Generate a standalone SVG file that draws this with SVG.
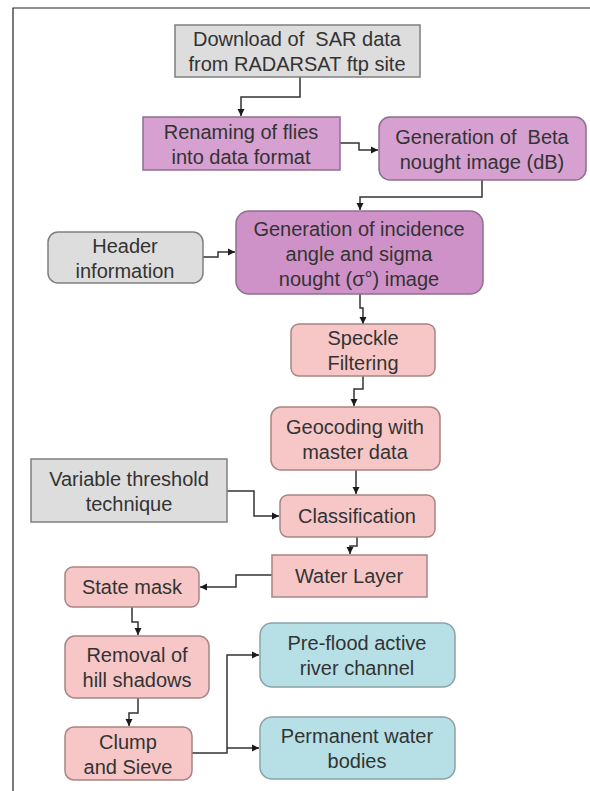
<svg xmlns="http://www.w3.org/2000/svg" width="590" height="791" viewBox="0 0 590 791">
<defs>
<marker id="ah" markerWidth="8" markerHeight="8" refX="7" refY="4" orient="auto" markerUnits="userSpaceOnUse">
<path d="M0,0.5 L7,4 L0,7.5 Z" fill="#1a1a1a"/>
</marker>
</defs>
<style>
text{font-family:"Liberation Sans",Arial,sans-serif;font-size:20px;fill:#333333;text-anchor:middle;white-space:pre}
.gray{fill:#dddddd;stroke:#7f7f7f;stroke-width:1.5}
.purple{fill:#d6a0d1;stroke:#8f6f8c;stroke-width:1.5}
.purple2{fill:#cf92c8;stroke:#8f6f8c;stroke-width:1.5}
.pink{fill:#f7c7c7;stroke:#a88484;stroke-width:1.5}
.blue{fill:#b6e0e6;stroke:#8aa2a6;stroke-width:1.5}
.c{fill:none;stroke:#333333;stroke-width:1.5;marker-end:url(#ah)}
.frame{fill:none;stroke:#222222;stroke-width:1.2}
</style>
<path class="frame" d="M13,791 V8 H590"/>
<g id="connectors">
<path class="c" d="M300,77 V97 H241 V116"/>
<path class="c" d="M340,143 H359 V150 H378"/>
<path class="c" d="M482,180 V197 H360 V210"/>
<path class="c" d="M203,257 H218 V252 H235"/>
<path class="c" d="M360,294 V308 H363 V324"/>
<path class="c" d="M363,376 V389 H354 V406"/>
<path class="c" d="M356,470 V494"/>
<path class="c" d="M227,491 H254 V516 H279"/>
<path class="c" d="M357,537 V546 H350 V554"/>
<path class="c" d="M272,575 H236 V587 H200"/>
<path class="c" d="M132,607 V622 H138 V635"/>
<path class="c" d="M138,698 V713 H129 V726"/>
<path class="c" d="M192,753 H227 V655 H259"/>
<path class="c" d="M227,748 H259"/>
</g>
<g id="n1"><rect class="gray" x="175" y="25" width="245" height="52"/><text x="297" y="46" xml:space="preserve">Download of  SAR data</text><text x="297" y="71">from RADARSAT ftp site</text></g>
<g id="n2"><rect class="purple" x="143" y="117" width="197" height="53"/><text x="241" y="139">Renaming of flies</text><text x="241" y="164">into data format</text></g>
<g id="n3"><rect class="purple" x="379" y="117" width="207" height="63" rx="11"/><text x="482" y="144" xml:space="preserve">Generation of  Beta</text><text x="482" y="169">nought image (dB)</text></g>
<g id="n4"><rect class="purple2" x="236" y="211" width="247" height="83" rx="13"/><text x="359" y="236">Generation of incidence</text><text x="359" y="261">angle and sigma</text><text x="359" y="286">nought (σ°) image</text></g>
<g id="n5"><rect class="gray" x="48" y="232" width="155" height="51" rx="10"/><text x="125" y="253">Header</text><text x="125" y="278">information</text></g>
<g id="n6"><rect class="pink" x="291" y="324" width="144" height="52" rx="8"/><text x="363" y="345">Speckle</text><text x="363" y="370">Filtering</text></g>
<g id="n7"><rect class="pink" x="271" y="407" width="169" height="63" rx="10"/><text x="355" y="434">Geocoding with</text><text x="355" y="459">master data</text></g>
<g id="n8"><rect class="gray" x="31" y="459" width="196" height="63"/><text x="129" y="486">Variable threshold</text><text x="129" y="511">technique</text></g>
<g id="n9"><rect class="pink" x="280" y="495" width="155" height="42" rx="8"/><text x="357" y="523">Classification</text></g>
<g id="n10"><rect class="pink" x="272" y="555" width="155" height="42"/><text x="349" y="583">Water Layer</text></g>
<g id="n11"><rect class="pink" x="65" y="567" width="134" height="40" rx="8"/><text x="132" y="594">State mask</text></g>
<g id="n12"><rect class="pink" x="65" y="636" width="144" height="62" rx="10"/><text x="137" y="662">Removal of</text><text x="137" y="687">hill shadows</text></g>
<g id="n13"><rect class="pink" x="65" y="727" width="127" height="53" rx="9"/><text x="128" y="749">Clump</text><text x="128" y="774">and Sieve</text></g>
<g id="n14"><rect class="blue" x="260" y="623" width="195" height="64" rx="12"/><text x="357" y="650">Pre-flood active</text><text x="357" y="675">river channel</text></g>
<g id="n15"><rect class="blue" x="260" y="717" width="195" height="62" rx="12"/><text x="357" y="743">Permanent water</text><text x="357" y="768">bodies</text></g>
</svg>
